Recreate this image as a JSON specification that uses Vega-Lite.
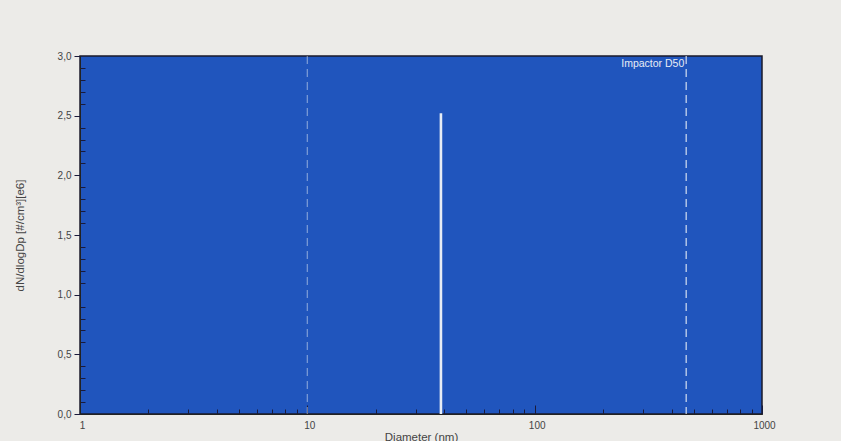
{
  "$schema": "https://vega.github.io/schema/vega-lite/v6.json",
  "width": 682,
  "height": 358,
  "autosize": "none",
  "padding": {"left": 80, "top": 56, "right": 79, "bottom": 27},
  "background": "#ecebe8",
  "config": {
    "view": {"fill": "#2055bd", "stroke": "#1a1a2a", "strokeWidth": 1.5},
    "font": "Liberation Sans",
    "axis": {"grid": false, "labelColor": "#444", "titleColor": "#444", "labelFontSize": 10, "titleFontSize": 11.5, "titleFontWeight": "normal", "domainColor": "#222", "tickColor": "#1a1a3a", "labelOverlap": false, "labelBound": false, "tickCount": 200}
  },
  "datasets": {
    "spike": [{"diameter": 38.7, "base": 0, "conc": 2.52}],
    "marks": [{"diameter": 10, "name": "lower"}, {"diameter": 464, "name": "Impactor D50"}],
    "label": [{"diameter": 455, "conc": 2.93, "text": "Impactor D50"}]
  },
  "layer": [
    {
      "data": {"name": "marks"},
      "mark": {"type": "rule", "color": "#e4eaf4", "strokeDash": [8, 5], "strokeWidth": 1.3},
      "encoding": {
        "x": {"field": "diameter", "type": "quantitative", "scale": {"type": "log", "domain": [1, 1000]},
          "axis": {
            "title": "Diameter (nm)", "titlePadding": -3, "tickCount": 200,
            "values": [1,2,3,4,5,6,7,8,9,10,20,30,40,50,60,70,80,90,100,200,300,400,500,600,700,800,900,1000],
            "labelExpr": "indexof([1,10,100,1000], datum.value) >= 0 ? datum.value + '' : ''",
            "tickSize": {"condition": {"test": "indexof([1,10,100,1000], datum.value) >= 0", "value": -9}, "value": -5},
            "labelPadding": 15, "labelAlign": "center", "labelOffset": 2,
            "domain": true
          }
        },
        "opacity": {"condition": {"test": "datum.name == 'lower'", "value": 0.45}, "value": 0.85}
      }
    },
    {
      "data": {"name": "spike"},
      "mark": {"type": "rule", "color": "#e6ecf5", "strokeWidth": 2.6},
      "encoding": {
        "x": {"field": "diameter", "type": "quantitative"},
        "y": {"field": "base", "type": "quantitative", "scale": {"domain": [0, 3]},
          "axis": {
            "title": "dN/dlogDp [#/cm³][e6]", "titlePadding": 32, "tickCount": 200,
            "values": [0,0.1,0.2,0.3,0.4,0.5,0.6,0.7,0.8,0.9,1,1.1,1.2,1.3,1.4,1.5,1.6,1.7,1.8,1.9,2,2.1,2.2,2.3,2.4,2.5,2.6,2.7,2.8,2.9,3],
            "labelExpr": "abs(datum.value*2 - round(datum.value*2)) < 0.001 ? replace(format(datum.value, '.1f'), '.', ',') : ''",
            "tickSize": {"condition": {"test": "abs(datum.value*2 - round(datum.value*2)) < 0.001", "value": 6}, "value": -5},
            "labelPadding": 3
          }
        },
        "y2": {"field": "conc"}
      }
    },
    {
      "data": {"name": "label"},
      "mark": {"type": "text", "color": "#e6ecf5", "fontSize": 10.5, "align": "right", "baseline": "middle"},
      "encoding": {
        "x": {"field": "diameter", "type": "quantitative"},
        "y": {"field": "conc", "type": "quantitative"},
        "text": {"field": "text"}
      }
    }
  ]
}
